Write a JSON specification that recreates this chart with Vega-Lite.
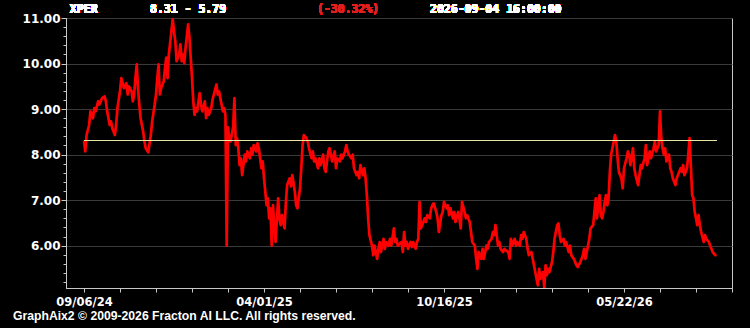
{
  "$schema": "https://vega.github.io/schema/vega-lite/v6.json",
  "autosize": {"type": "none"},
  "width": 666,
  "height": 270,
  "padding": {"left": 66, "top": 18, "right": 18, "bottom": 40},
  "background": "#000000",
  "config": {
    "view": {"stroke": "#c8c8c8", "strokeWidth": 1, "fill": "#000000"}
  },
  "title": {
    "text": "GraphAix2 © 2009-2026 Fracton AI LLC. All rights reserved.",
    "orient": "bottom",
    "anchor": "start",
    "frame": "group",
    "dx": -53,
    "offset": 2,
    "color": "#ffffff",
    "font": "Liberation Sans",
    "fontSize": 12.2,
    "fontWeight": "bold"
  },
  "data": {
    "values": [
      {"t":0,"p":8.31},{"t":1,"p":8.07},{"t":2,"p":8.43},{"t":4,"p":8.65},{"t":5,"p":8.95},{"t":7,"p":8.80},{"t":8,"p":9.02},{"t":9,"p":8.95},{"t":11,"p":9.17},{"t":12,"p":9.10},{"t":14,"p":9.24},{"t":16,"p":9.28},{"t":17,"p":9.17},{"t":18,"p":8.95},{"t":20,"p":8.65},{"t":21,"p":8.73},{"t":22,"p":8.58},{"t":24,"p":8.43},{"t":25,"p":8.65},{"t":26,"p":9.02},{"t":28,"p":9.39},{"t":29,"p":9.68},{"t":30,"p":9.57},{"t":31,"p":9.46},{"t":33,"p":9.57},{"t":34,"p":9.32},{"t":35,"p":9.50},{"t":37,"p":9.39},{"t":38,"p":9.17},{"t":39,"p":9.32},{"t":40,"p":9.68},{"t":41,"p":9.98},{"t":42,"p":9.46},{"t":43,"p":9.10},{"t":44,"p":8.80},{"t":46,"p":8.51},{"t":47,"p":8.29},{"t":48,"p":8.14},{"t":50,"p":8.05},{"t":51,"p":8.25},{"t":52,"p":8.43},{"t":53,"p":8.73},{"t":55,"p":9.10},{"t":56,"p":9.32},{"t":57,"p":9.68},{"t":58,"p":9.98},{"t":59,"p":9.32},{"t":60,"p":9.46},{"t":62,"p":9.61},{"t":63,"p":9.90},{"t":64,"p":10.13},{"t":65,"p":9.68},{"t":66,"p":10.20},{"t":68,"p":10.71},{"t":69,"p":10.97},{"t":70,"p":10.71},{"t":71,"p":10.49},{"t":72,"p":10.05},{"t":74,"p":10.20},{"t":75,"p":10.42},{"t":76,"p":10.05},{"t":77,"p":10.20},{"t":78,"p":10.01},{"t":79,"p":10.35},{"t":81,"p":10.86},{"t":82,"p":10.57},{"t":83,"p":10.13},{"t":84,"p":9.68},{"t":85,"p":9.17},{"t":86,"p":8.87},{"t":87,"p":9.02},{"t":88,"p":8.95},{"t":89,"p":9.17},{"t":90,"p":9.35},{"t":91,"p":9.10},{"t":92,"p":8.95},{"t":94,"p":9.17},{"t":95,"p":8.80},{"t":96,"p":9.02},{"t":97,"p":8.87},{"t":99,"p":9.02},{"t":100,"p":9.21},{"t":101,"p":9.32},{"t":103,"p":9.54},{"t":104,"p":9.32},{"t":105,"p":9.39},{"t":107,"p":9.10},{"t":108,"p":8.95},{"t":109,"p":9.02},{"t":110,"p":8.87},{"t":111,"p":6.00},{"t":112,"p":8.60},{"t":113,"p":8.36},{"t":114,"p":8.29},{"t":116,"p":8.60},{"t":117,"p":9.24},{"t":118,"p":8.21},{"t":119,"p":8.36},{"t":120,"p":8.14},{"t":121,"p":7.77},{"t":122,"p":7.92},{"t":123,"p":7.55},{"t":125,"p":8.00},{"t":126,"p":7.85},{"t":127,"p":8.07},{"t":129,"p":7.92},{"t":130,"p":8.14},{"t":131,"p":8.00},{"t":132,"p":8.21},{"t":134,"p":8.07},{"t":135,"p":8.25},{"t":136,"p":8.14},{"t":138,"p":7.70},{"t":139,"p":7.85},{"t":140,"p":7.48},{"t":142,"p":6.89},{"t":143,"p":7.04},{"t":144,"p":6.60},{"t":145,"p":6.82},{"t":146,"p":6.00},{"t":147,"p":6.89},{"t":148,"p":6.45},{"t":149,"p":6.08},{"t":151,"p":7.04},{"t":152,"p":6.60},{"t":153,"p":6.45},{"t":154,"p":6.67},{"t":156,"p":6.38},{"t":157,"p":6.95},{"t":158,"p":7.33},{"t":160,"p":7.48},{"t":161,"p":7.30},{"t":162,"p":7.55},{"t":164,"p":7.18},{"t":165,"p":6.89},{"t":166,"p":6.82},{"t":167,"p":7.04},{"t":168,"p":7.26},{"t":169,"p":7.70},{"t":170,"p":8.21},{"t":171,"p":8.43},{"t":173,"p":8.36},{"t":174,"p":8.29},{"t":175,"p":8.14},{"t":177,"p":7.92},{"t":178,"p":8.07},{"t":179,"p":7.85},{"t":180,"p":7.92},{"t":182,"p":7.70},{"t":183,"p":7.92},{"t":184,"p":7.77},{"t":186,"p":8.00},{"t":187,"p":7.70},{"t":188,"p":7.62},{"t":190,"p":8.07},{"t":191,"p":8.14},{"t":192,"p":8.00},{"t":193,"p":7.85},{"t":195,"p":8.07},{"t":196,"p":7.70},{"t":197,"p":7.92},{"t":199,"p":7.85},{"t":200,"p":8.00},{"t":201,"p":7.92},{"t":203,"p":8.07},{"t":204,"p":8.21},{"t":205,"p":8.07},{"t":206,"p":8.00},{"t":208,"p":7.92},{"t":209,"p":8.00},{"t":210,"p":7.70},{"t":212,"p":7.55},{"t":213,"p":7.62},{"t":214,"p":7.48},{"t":215,"p":7.77},{"t":217,"p":7.55},{"t":218,"p":7.70},{"t":219,"p":7.48},{"t":220,"p":7.11},{"t":221,"p":6.60},{"t":222,"p":6.23},{"t":224,"p":6.00},{"t":225,"p":5.79},{"t":226,"p":6.00},{"t":228,"p":5.71},{"t":229,"p":5.93},{"t":230,"p":6.08},{"t":231,"p":5.86},{"t":233,"p":6.15},{"t":234,"p":5.93},{"t":235,"p":6.08},{"t":237,"p":6.00},{"t":238,"p":6.15},{"t":239,"p":6.00},{"t":241,"p":6.38},{"t":242,"p":6.08},{"t":243,"p":6.15},{"t":244,"p":6.00},{"t":247,"p":6.08},{"t":248,"p":5.86},{"t":249,"p":6.30},{"t":250,"p":6.00},{"t":251,"p":6.08},{"t":252,"p":5.93},{"t":254,"p":6.08},{"t":255,"p":5.97},{"t":256,"p":6.08},{"t":258,"p":5.93},{"t":259,"p":6.08},{"t":260,"p":6.15},{"t":261,"p":6.96},{"t":262,"p":6.38},{"t":263,"p":6.45},{"t":265,"p":6.60},{"t":266,"p":6.52},{"t":267,"p":6.67},{"t":269,"p":6.60},{"t":270,"p":6.82},{"t":271,"p":6.89},{"t":272,"p":6.93},{"t":274,"p":6.74},{"t":275,"p":6.60},{"t":276,"p":6.30},{"t":278,"p":6.67},{"t":279,"p":6.74},{"t":280,"p":6.96},{"t":282,"p":6.82},{"t":283,"p":6.89},{"t":284,"p":6.67},{"t":285,"p":6.82},{"t":287,"p":6.60},{"t":288,"p":6.74},{"t":289,"p":6.52},{"t":291,"p":6.74},{"t":292,"p":6.60},{"t":293,"p":6.38},{"t":294,"p":6.96},{"t":296,"p":6.74},{"t":297,"p":6.60},{"t":298,"p":6.67},{"t":300,"p":6.52},{"t":301,"p":6.30},{"t":302,"p":6.08},{"t":304,"p":6.00},{"t":305,"p":5.71},{"t":306,"p":5.49},{"t":307,"p":5.86},{"t":309,"p":5.71},{"t":310,"p":5.93},{"t":311,"p":5.71},{"t":313,"p":6.00},{"t":314,"p":5.93},{"t":315,"p":6.08},{"t":317,"p":6.15},{"t":318,"p":6.30},{"t":319,"p":6.23},{"t":320,"p":6.45},{"t":322,"p":6.00},{"t":323,"p":6.08},{"t":324,"p":5.93},{"t":326,"p":5.86},{"t":327,"p":5.93},{"t":328,"p":5.90},{"t":330,"p":5.86},{"t":331,"p":5.71},{"t":332,"p":6.15},{"t":333,"p":6.00},{"t":335,"p":6.15},{"t":336,"p":6.00},{"t":337,"p":6.08},{"t":339,"p":6.00},{"t":340,"p":6.23},{"t":341,"p":6.15},{"t":342,"p":6.30},{"t":344,"p":6.15},{"t":345,"p":5.93},{"t":346,"p":5.79},{"t":348,"p":5.86},{"t":349,"p":5.71},{"t":350,"p":5.57},{"t":352,"p":5.27},{"t":353,"p":5.13},{"t":354,"p":5.49},{"t":355,"p":5.27},{"t":357,"p":5.42},{"t":358,"p":5.07},{"t":359,"p":5.57},{"t":360,"p":5.35},{"t":361,"p":5.49},{"t":362,"p":5.42},{"t":364,"p":5.64},{"t":365,"p":5.86},{"t":366,"p":6.15},{"t":367,"p":6.30},{"t":368,"p":6.45},{"t":369,"p":6.49},{"t":370,"p":6.23},{"t":371,"p":6.08},{"t":373,"p":6.15},{"t":374,"p":6.00},{"t":375,"p":6.08},{"t":377,"p":5.86},{"t":378,"p":6.00},{"t":379,"p":5.79},{"t":381,"p":5.71},{"t":382,"p":5.64},{"t":383,"p":5.57},{"t":384,"p":5.53},{"t":386,"p":5.64},{"t":387,"p":5.71},{"t":388,"p":5.79},{"t":389,"p":5.93},{"t":390,"p":5.71},{"t":392,"p":6.00},{"t":393,"p":6.15},{"t":394,"p":6.38},{"t":396,"p":6.45},{"t":397,"p":6.74},{"t":398,"p":7.04},{"t":399,"p":6.60},{"t":400,"p":6.89},{"t":401,"p":7.11},{"t":402,"p":6.67},{"t":403,"p":6.60},{"t":404,"p":6.74},{"t":405,"p":6.96},{"t":406,"p":7.11},{"t":407,"p":6.89},{"t":408,"p":7.04},{"t":409,"p":7.62},{"t":410,"p":8.00},{"t":411,"p":8.14},{"t":413,"p":8.43},{"t":414,"p":8.29},{"t":415,"p":7.92},{"t":416,"p":7.62},{"t":418,"p":7.48},{"t":419,"p":7.26},{"t":420,"p":7.70},{"t":422,"p":7.92},{"t":423,"p":8.07},{"t":424,"p":8.00},{"t":425,"p":7.77},{"t":427,"p":8.14},{"t":428,"p":7.70},{"t":429,"p":7.55},{"t":431,"p":7.33},{"t":432,"p":7.55},{"t":433,"p":7.77},{"t":434,"p":7.70},{"t":436,"p":7.92},{"t":437,"p":8.21},{"t":438,"p":7.77},{"t":439,"p":7.92},{"t":440,"p":8.07},{"t":441,"p":7.92},{"t":443,"p":8.14},{"t":444,"p":8.29},{"t":445,"p":8.07},{"t":447,"p":8.21},{"t":448,"p":8.95},{"t":449,"p":8.36},{"t":450,"p":8.14},{"t":451,"p":8.00},{"t":452,"p":8.14},{"t":453,"p":7.85},{"t":455,"p":8.00},{"t":456,"p":7.70},{"t":457,"p":7.62},{"t":458,"p":7.48},{"t":460,"p":7.33},{"t":461,"p":7.48},{"t":462,"p":7.55},{"t":464,"p":7.70},{"t":465,"p":7.62},{"t":466,"p":7.77},{"t":467,"p":7.55},{"t":469,"p":7.70},{"t":470,"p":8.00},{"t":471,"p":8.36},{"t":472,"p":7.77},{"t":473,"p":7.11},{"t":474,"p":7.04},{"t":475,"p":6.74},{"t":476,"p":6.60},{"t":477,"p":6.45},{"t":478,"p":6.67},{"t":479,"p":6.45},{"t":480,"p":6.30},{"t":482,"p":6.08},{"t":483,"p":6.23},{"t":484,"p":6.15},{"t":486,"p":6.08},{"t":487,"p":6.00},{"t":488,"p":5.93},{"t":489,"p":5.86},{"t":491,"p":5.79},{"t":492,"p":5.79}
    ]
  },
  "layer": [
    {
      "mark": {"type": "line", "color": "#ff0000", "strokeWidth": 2.7, "strokeJoin": "round", "clip": true},
      "encoding": {
        "x": {
          "field": "t", "type": "quantitative",
          "scale": {"domain": [-14, 504], "nice": false, "zero": false},
          "axis": {
            "title": null,
            "tickCount": 200,
            "values": [0,28,56,84,112,140,168,196,224,252,280,308,336,364,392,420,448,476,504],
            "labelExpr": "datum.value == 0 ? '09/06/24' : datum.value == 140 ? '04/01/25' : datum.value == 280 ? '10/16/25' : datum.value == 420 ? '05/22/26' : ''",
            "grid": false,
            "domainColor": "#c8c8c8",
            "tickColor": "#c8c8c8",
            "tickSize": 4,
            "labelColor": "#ffffff",
            "labelFont": "DejaVu Sans",
            "labelFontWeight": "bold",
            "labelFontSize": 11.5,
            "labelPadding": 4,
            "labelFlush": false,
            "labelOverlap": false
          }
        },
        "y": {
          "field": "p", "type": "quantitative",
          "scale": {"domain": [5.07, 11.0], "nice": false, "zero": false},
          "axis": {
            "title": null,
            "tickCount": 200,
            "values": [5.2,5.4,5.6,5.8,6,6.2,6.4,6.6,6.8,7,7.2,7.4,7.6,7.8,8,8.2,8.4,8.6,8.8,9,9.2,9.4,9.6,9.8,10,10.2,10.4,10.6,10.8,11],
            "labelExpr": "abs(datum.value - round(datum.value)) < 0.01 ? format(datum.value, '.2f') : ''",
            "grid": true,
            "gridColor": "#3a3a3a",
            "gridWidth": 1,
            "gridOpacity": {"condition": {"test": "abs(datum.value - round(datum.value)) < 0.01", "value": 1}, "value": 0},
            "tickSize": {"condition": {"test": "abs(datum.value - round(datum.value)) < 0.01", "value": 5}, "value": 3},
            "domainColor": "#c8c8c8",
            "tickColor": "#c8c8c8",
            "labelColor": "#ffffff",
            "labelFont": "DejaVu Sans",
            "labelFontWeight": "bold",
            "labelFontSize": 12,
            "labelPadding": 1,
            "labelOverlap": false,
            "labelFlush": false
          }
        }
      }
    },
    {
      "mark": {"type": "rule", "color": "#e4e8a0", "strokeWidth": 1.2},
      "encoding": {
        "x": {"datum": 0, "type": "quantitative"},
        "x2": {"datum": 492},
        "y": {"datum": 8.31, "type": "quantitative"}
      }
    },
    {
      "mark": {"type": "text", "align": "left", "baseline": "middle", "font": "DejaVu Sans Mono", "fontWeight": "bold", "fontSize": 11.5, "color": "#ffffff", "clip": false},
      "encoding": {
        "x": {"datum": -11, "type": "quantitative"},
        "y": {"datum": 11.18, "type": "quantitative"},
        "text": {"value": "XPER"}
      }
    },
    {
      "mark": {"type": "text", "align": "left", "baseline": "middle", "font": "DejaVu Sans Mono", "fontWeight": "bold", "fontSize": 11.5, "color": "#ffffff", "clip": false},
      "encoding": {
        "x": {"datum": 51.3, "type": "quantitative"},
        "y": {"datum": 11.18, "type": "quantitative"},
        "text": {"value": "8.31 - 5.79"}
      }
    },
    {
      "mark": {"type": "text", "align": "left", "baseline": "middle", "font": "DejaVu Sans Mono", "fontWeight": "bold", "fontSize": 11.5, "color": "#e02020", "clip": false},
      "encoding": {
        "x": {"datum": 181.2, "type": "quantitative"},
        "y": {"datum": 11.18, "type": "quantitative"},
        "text": {"value": "(-30.32%)"}
      }
    },
    {
      "mark": {"type": "text", "align": "left", "baseline": "middle", "font": "DejaVu Sans Mono", "fontWeight": "bold", "fontSize": 11.5, "color": "#ffffff", "clip": false},
      "encoding": {
        "x": {"datum": 269.1, "type": "quantitative"},
        "y": {"datum": 11.18, "type": "quantitative"},
        "text": {"value": "2026-09-04  16:00:00"}
      }
    }
  ]
}
